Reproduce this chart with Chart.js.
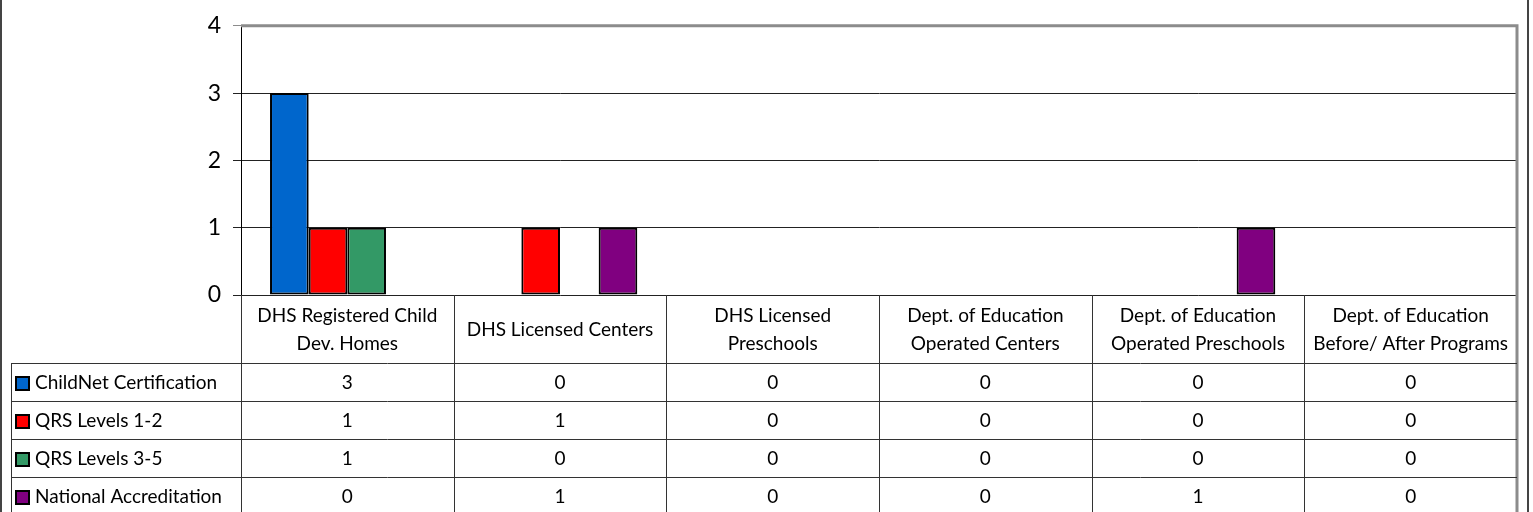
<!DOCTYPE html>
<html>
<head>
<meta charset="utf-8">
<script src="https://cdn.jsdelivr.net/npm/chart.js@4/dist/chart.umd.min.js"></script>
<style>
  html, body { margin: 0; padding: 0; background: #fff; }
  #wrap { width: 1533px; height: 512px; position: relative; }
</style>
</head>
<body>
<div id="wrap"><canvas id="chart" width="1533" height="512"></canvas></div>
<script>
// categorias (dos lineas cada una, como en la tabla)
const categorias = [
    ['DHS Registered Child', 'Dev. Homes'],
    ['DHS Licensed Centers'],
    ['DHS Licensed', 'Preschools'],
    ['Dept. of Education', 'Operated Centers'],
    ['Dept. of Education', 'Operated Preschools'],
    ['Dept. of Education', 'Before/ After Programs']
];

const series = ['ChildNet Certification', 'QRS Levels 1-2', 'QRS Levels 3-5', 'National Accreditation'];
const childNet = [3, 0, 0, 0, 0, 0];
const qrs12 = [1, 1, 0, 0, 0, 0];
const qrs35 = [1, 0, 0, 0, 0, 0];
const nacional = [0, 1, 0, 0, 1, 0];
const colores = ['#0066CC', '#FF0000', '#339966', '#800080'];
const ticksY = [0, 1, 2, 3, 4];

const valores = [childNet, qrs12, qrs35, nacional];
const fuente = 'Lato, "Open Sans", sans-serif';

// Tabla de datos debajo del grafico
const tablaPlugin = {
    id: 'tablaDatos',
    afterDraw(chart) {
        const ctx = chart.ctx;
        const area = chart.chartArea;
        const xs = chart.scales.x;
        const n = categorias.length;
        const colW = (area.right - area.left) / n;
        const top = area.bottom;
        const headH = 68;
        const rowH = 38;
        const legLeft = 11;

        ctx.save();

        // bordes del area de grafico (gris)
        ctx.strokeStyle = '#8c8c8c';
        ctx.lineWidth = 3;
        ctx.beginPath();
        ctx.moveTo(area.left, area.top);
        ctx.lineTo(area.right, area.top);
        ctx.lineTo(area.right, 512);
        ctx.stroke();

        // lineas de la tabla
        ctx.strokeStyle = '#333';
        ctx.lineWidth = 1;
        ctx.beginPath();
        for (let i = 0; i < n; i++) {
            const xl = Math.round(xs.getPixelForValue(i) - colW / 2) + 0.5;
            ctx.moveTo(xl, top);
            ctx.lineTo(xl, 512);
        }
        for (let r = 0; r < series.length; r++) {
            const y = Math.round(top + headH + r * rowH) + 0.5;
            ctx.moveTo(legLeft, y);
            ctx.lineTo(area.right, y);
        }
        ctx.moveTo(legLeft + 0.5, top + headH);
        ctx.lineTo(legLeft + 0.5, 512);
        ctx.stroke();

        // encabezados
        ctx.fillStyle = '#000';
        ctx.font = '19px ' + fuente;
        ctx.textAlign = 'center';
        ctx.textBaseline = 'middle';
        categorias.forEach((lineas, i) => {
            const cx = xs.getPixelForValue(i);
            const cy = top + headH / 2 + 1;
            const paso = 28;
            lineas.forEach((t, k) => {
                ctx.fillText(t, cx, cy + (k - (lineas.length - 1) / 2) * paso);
            });
        });

        // filas
        series.forEach((nombre, r) => {
            const cy = top + headH + r * rowH + rowH / 2 + 1;
            ctx.fillStyle = colores[r];
            ctx.fillRect(16, cy - 6, 13, 13);
            ctx.strokeStyle = '#000';
            ctx.lineWidth = 2;
            ctx.strokeRect(16, cy - 6, 13, 13);
            ctx.fillStyle = '#000';
            ctx.textAlign = 'left';
            ctx.fillText(nombre, 35, cy);
            ctx.textAlign = 'center';
            valores[r].forEach((v, i) => {
                ctx.fillText(String(v), xs.getPixelForValue(i), cy);
            });
        });

        // marco exterior
        ctx.strokeStyle = '#444';
        ctx.lineWidth = 2;
        ctx.beginPath();
        ctx.moveTo(1, 0);
        ctx.lineTo(1, 512);
        ctx.moveTo(1528, 0);
        ctx.lineTo(1528, 512);
        ctx.stroke();

        ctx.restore();
    }
};

new Chart(document.getElementById('chart'), {
    type: 'bar',
    data: {
        labels: categorias.map(c => c.join(' ')),
        datasets: series.map((nombre, i) => ({
            label: nombre,
            data: valores[i],
            backgroundColor: colores[i],
            borderColor: '#000',
            borderWidth: ctx => ctx.raw ? 2 : 0,
            borderSkipped: false,
            barPercentage: 1,
            categoryPercentage: 0.727
        }))
    },
    options: {
        responsive: false,
        animation: false,
        layout: { padding: { left: 0, top: 22, right: 16, bottom: 217 } },
        plugins: {
            legend: { display: false },
            tooltip: { enabled: false }
        },
        scales: {
            x: { display: false },
            y: {
                min: ticksY[0],
                max: ticksY[ticksY.length - 1],
                afterFit: s => { s.width = 241; },
                afterBuildTicks: s => { s.ticks = ticksY.map(v => ({ value: v })); },
                border: { color: '#000', width: 1 },
                grid: {
                    color: c => c.tick && c.tick.value === 4 ? '#8c8c8c' : '#222',
                    tickLength: 8
                },
                ticks: {
                    color: '#000',
                    padding: 12,
                    font: { family: fuente, size: 23 }
                }
            }
        }
    },
    plugins: [tablaPlugin]
});
</script>
</body>
</html>
